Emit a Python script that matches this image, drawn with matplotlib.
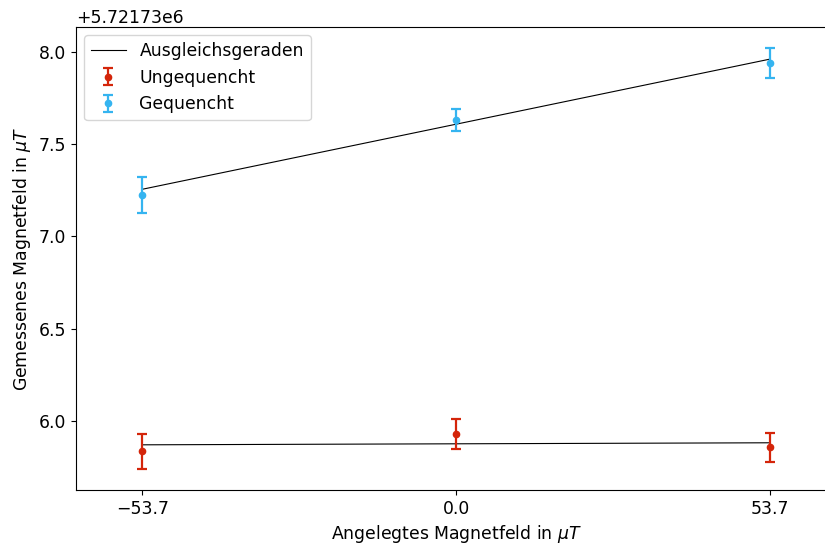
#!/usr/bin/env python3
"""Gemessenes vs. angelegtes Magnetfeld, mit gewichteten Ausgleichsgeraden."""
import numpy as np
import matplotlib
matplotlib.use('Agg')
import matplotlib.pyplot as plt

plt.rcParams['font.size'] = 12.4

COLORS = {
    'ungequencht': '#d4250a',
    'gequencht': '#35b4f0',
    'fit': 'black',
}

# Angelegtes Feld (uT)
B_angelegt = np.array([-53.7, 0.0, 53.7])

# Gemessene Werte (uT)
B_ungequencht = np.array([5721735.834, 5721735.928, 5721735.856])
err_ungequencht = np.array([0.095, 0.082, 0.079])

B_gequencht = np.array([5721737.226, 5721737.630, 5721737.940])
err_gequencht = np.array([0.098, 0.061, 0.082])

OFFSET = 5721730.0


def weighted_fit(x, y, err):
    """Lineare Ausgleichsgerade, gewichtet mit 1/sigma."""
    m, b = np.polyfit(x, y - OFFSET, 1, w=1 / err)
    return m * x + b + OFFSET


fig = plt.figure(figsize=(8.25, 5.45), dpi=100)
# axes run past the right edge like in the cropped original
ax = fig.add_axes([0.0918, 0.101, 0.922, 0.850])

ax.plot(B_angelegt, weighted_fit(B_angelegt, B_ungequencht, err_ungequencht),
        color=COLORS['fit'], linewidth=0.8, label='Ausgleichsgeraden')
ax.plot(B_angelegt, weighted_fit(B_angelegt, B_gequencht, err_gequencht),
        color=COLORS['fit'], linewidth=0.8)

ax.errorbar(B_angelegt, B_ungequencht, yerr=err_ungequencht, fmt='o',
            color=COLORS['ungequencht'], markersize=4.5, elinewidth=1.6,
            capsize=3.5, capthick=1.6, label='Ungequencht')
ax.errorbar(B_angelegt, B_gequencht, yerr=err_gequencht, fmt='o',
            color=COLORS['gequencht'], markersize=4.5, elinewidth=1.6,
            capsize=3.5, capthick=1.6, label='Gequencht')

ax.set_xticks(B_angelegt)
ax.set_xlim(-65.1, 65.1)
ax.set_xlabel(r'Angelegtes Magnetfeld in $\mu T$')
ax.set_ylabel(r'Gemessenes Magnetfeld in $\mu T$')
ax.legend(loc='upper left')

plt.savefig('out.png', dpi=100)
plt.close()
